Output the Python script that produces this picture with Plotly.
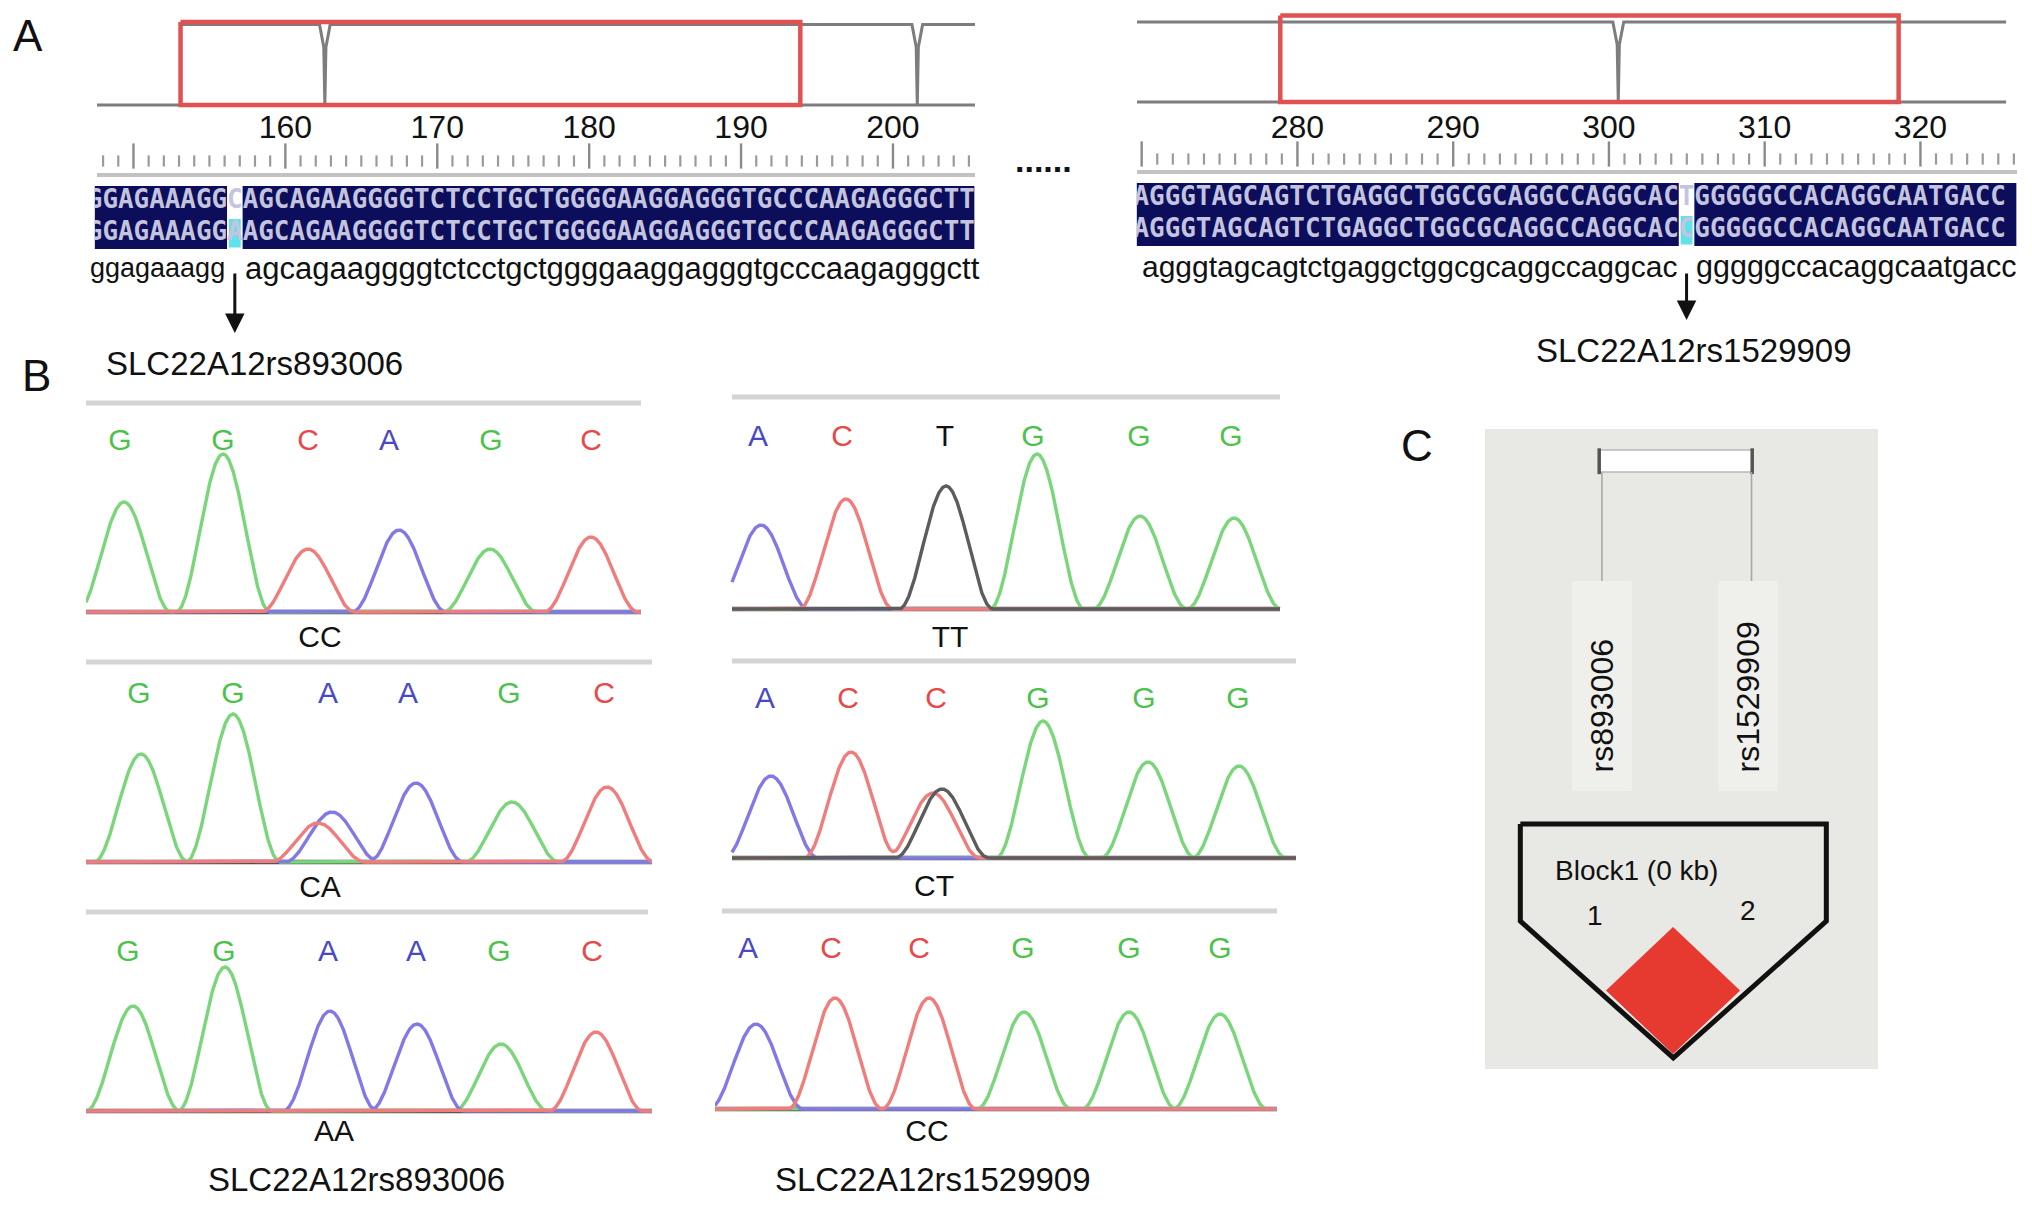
import numpy as np
import plotly.graph_objects as go

W, H = 2032, 1205
SANS = "Liberation Sans, Arial, Helvetica, sans-serif"
MONO = "DejaVu Sans Mono, Liberation Mono, monospace"

# ======================= DATA =======================
# ---- Panel A: sequence viewer (base positions) ----
posA_left_range = [147.6, 205.4]
posA_right_range = [269.7, 326.2]
rulerA_left_labels = [160, 170, 180, 190, 200]
rulerA_right_labels = [280, 290, 300, 310, 320]
rulerA_left_ticks = list(range(148, 206))
rulerA_right_ticks = list(range(270, 327))
traceA_left_rise = 153.1      # quality trace starts (rises) here
traceA_right_rise = None      # quality trace spans whole view
traceA_left_dips = [162.6, 201.6]
traceA_right_dips = [300.6]
windowA_left = [153.1, 193.9]
windowA_right = [278.9, 318.6]

seqA_left_row1 = "GGAGAAAGGCAGCAGAAGGGGTCTCCTGCTGGGGAAGGAGGGTGCCCAAGAGGGCTT"
seqA_left_row2 = "GGAGAAAGGAAGCAGAAGGGGTCTCCTGCTGGGGAAGGAGGGTGCCCAAGAGGGCTT"
seqA_right_row1 = "AGGGTAGCAGTCTGAGGCTGGCGCAGGCCAGGCACTGGGGGCCACAGGCAATGACC"
seqA_right_row2 = "AGGGTAGCAGTCTGAGGCTGGCGCAGGCCAGGCACCGGGGGCCACAGGCAATGACC"
seqA_left_lower = ["ggagaaagg", "agcagaaggggtctcctgctggggaaggagggtgcccaagagggctt"]
seqA_right_lower = ["agggtagcagtctgaggctggcgcaggccaggcac", "gggggccacaggcaatgacc"]
snpA_left_index = 9
snpA_right_index = 35
snp_names = ["SLC22A12rs893006", "SLC22A12rs1529909"]

# ---- Panel B: chromatograms (scan position, signal) ----
chromL1_peak_pos = [38, 137, 222, 313, 404, 505]
chromL1_peak_h = [110, 158, 63, 82, 63, 75]
chromL1_peak_base = list("GGCAGC")
chromL1_call_pos = [34, 137, 222, 303, 405, 505]
chromL1_call = list("GGCAGC")
chromL1_genotype = "CC"

chromL2_peak_pos = [55, 147, 232, 246, 330, 426, 521]
chromL2_peak_h = [108, 148, 39, 50, 79, 60, 75]
chromL2_peak_base = list("GGCAAGC")
chromL2_call_pos = [53, 147, 242, 322, 423, 518]
chromL2_call = list("GGAAGC")
chromL2_genotype = "CA"

chromL3_peak_pos = [47, 139, 244, 331, 415, 510]
chromL3_peak_h = [105, 144, 100, 87, 67, 79]
chromL3_peak_base = list("GGAAGC")
chromL3_call_pos = [42, 138, 242, 330, 413, 506]
chromL3_call = list("GGAAGC")
chromL3_genotype = "AA"

chromR1_peak_pos = [46, 131, 231, 322, 425, 519]
chromR1_peak_h = [84, 110, 123, 155, 93, 91]
chromR1_peak_base = list("ACTGGG")
chromR1_call_pos = [43, 127, 230, 318, 424, 516]
chromR1_call = list("ACTGGG")
chromR1_genotype = "TT"

chromR2_peak_pos = [56, 136, 218, 227, 328, 433, 524]
chromR2_peak_h = [82, 106, 65, 69, 137, 96, 92]
chromR2_peak_base = list("ACCTGGG")
chromR2_call_pos = [50, 133, 221, 323, 429, 523]
chromR2_call = list("ACCGGG")
chromR2_genotype = "CT"

chromR3_peak_pos = [41, 120, 214, 309, 414, 505]
chromR3_peak_h = [85, 111, 111, 97, 97, 95]
chromR3_peak_base = list("ACCGGG")
chromR3_call_pos = [33, 116, 204, 308, 414, 505]
chromR3_call = list("ACCGGG")
chromR3_genotype = "CC"

# ---- Panel C: LD block (marker index units) ----
ldC_markers = ["rs893006", "rs1529909"]
ldC_marker_track = [0.97, 2.07]
ldC_marker_label_x = [0.97, 2.044]
ldC_block_label = "Block1 (0 kb)"
ldC_pair_value = [1.0]  # D' = 1 -> red diamond

# ======================= STYLES =======================
TRACE_COL = {"A": "#8278e6", "C": "#f07c7c", "G": "#7ad67a", "T": "#5c5c5c"}
CALL_COL = {"A": "#4a48c2", "C": "#e84848", "G": "#4cc24c", "T": "#111111"}

fig = go.Figure()
axes_layout = {}
counter = [0]


def add_axes(px0, px1, py0, py1, xr, yr):
    counter[0] += 1
    n = counter[0]
    s = "" if n == 1 else str(n)
    axes_layout["xaxis" + s] = dict(domain=[max(0, px0 / W), min(1, px1 / W)], range=xr,
                                    visible=False, fixedrange=True, anchor="y" + s)
    axes_layout["yaxis" + s] = dict(domain=[max(0, 1 - py1 / H), min(1, 1 - py0 / H)], range=yr,
                                    visible=False, fixedrange=True, anchor="x" + s)
    return "x" + s, "y" + s


def line(xa, ya, x, y, color, width, **kw):
    fig.add_trace(go.Scatter(x=x, y=y, xaxis=xa, yaxis=ya, mode="lines",
                             line=dict(color=color, width=width, **kw),
                             hoverinfo="skip", showlegend=False))


def paper_text(px, py, text, size, color="#111", xanchor="center", yanchor="middle", **kw):
    fig.add_annotation(x=px / W, y=1 - py / H, xref="paper", yref="paper", text=text,
                       showarrow=False, xanchor=xanchor, yanchor=yanchor,
                       font=dict(family=SANS, size=size, color=color), **kw)


# ======================= PANEL A =======================
def seq_panel(xd, xr, rise, dips, window, labels, ticks, geo):
    xa, ya = add_axes(xd[0], xd[1], 0, 400, xr, [400, 0])
    base_py, top_py, box_top = geo["base"], geo["top"], geo["box_top"]

    def qy(q):
        return base_py - q * (base_py - top_py)

    xend = xr[1] - geo["trim"]
    line(xa, ya, [xr[0], xend], [qy(0), qy(0)], "#7d7d7d", 3)
    if rise is None:
        qx, qq = [xr[0]], [1]
    else:
        qx, qq = [rise, rise], [0, 1]
    for d in dips:
        qx += [d - 0.35, d - 0.07, d, d + 0.07, d + 0.35]
        qq += [1, 0.72, 0, 0.72, 1]
    qx.append(xend)
    qq.append(1)
    line(xa, ya, qx, [qy(q) for q in qq], "#7d7d7d", 3)
    line(xa, ya, [window[0], window[1], window[1], window[0], window[0]],
         [box_top, box_top, base_py, base_py, box_top], "#e05252", 4.5)
    fig.add_trace(go.Scatter(x=labels, y=[geo["num"]] * len(labels), xaxis=xa, yaxis=ya,
                             mode="text", text=[str(v) for v in labels],
                             textfont=dict(family=SANS, size=32, color="#111"),
                             hoverinfo="skip", showlegend=False, cliponaxis=False))
    major = [t for t in ticks if t % 10 == 0]
    minor = [t for t in ticks if t % 10 != 0]
    fig.add_trace(go.Scatter(x=minor, y=[geo["tick"] + 4] * len(minor), xaxis=xa, yaxis=ya,
                             mode="markers", marker=dict(symbol="line-ns", size=8,
                                                         line=dict(color="#9a9a9a", width=2.2)),
                             hoverinfo="skip", showlegend=False, cliponaxis=False))
    fig.add_trace(go.Scatter(x=major, y=[geo["tick"] - 1] * len(major), xaxis=xa, yaxis=ya,
                             mode="markers", marker=dict(symbol="line-ns", size=18,
                                                         line=dict(color="#8a8a8a", width=2.4)),
                             hoverinfo="skip", showlegend=False, cliponaxis=False))
    line(xa, ya, [xr[0], xr[1]], [geo["sep"], geo["sep"]], "#c2c2c2", 4)
    return xa, ya


geoL = dict(base=105, top=24.6, box_top=22, num=130, tick=157, sep=175, trim=0)
geoR = dict(base=102, top=22, box_top=15.5, num=130, tick=155, sep=172, trim=0.7)
seq_panel([97, 975], posA_left_range, traceA_left_rise, traceA_left_dips, windowA_left,
          rulerA_left_labels, rulerA_left_ticks, geoL)
seq_panel([1137, 2017], posA_right_range, traceA_right_rise, traceA_right_dips, windowA_right,
          rulerA_right_labels, rulerA_right_ticks, geoR)

PITCH = 15.58


def seq_block(px0, px1, py0, py1, rows, first_center, snp_i, lower, low_py, low_sizes,
              arrow_tip, name, name_px, name_py, name_anchor):
    nch = (px1 - px0) / PITCH
    xa, ya = add_axes(px0, px1, py0, py1, [0, nch], [0, 2])
    gx0 = first_center + snp_i - 0.5
    fig.add_shape(type="rect", xref=xa, yref=ya, x0=0, x1=nch, y0=0, y1=2,
                  fillcolor="#0c0e5c", line_width=0, layer="below")
    fig.add_shape(type="rect", xref=xa, yref=ya, x0=gx0, x1=gx0 + 1, y0=0, y1=2,
                  fillcolor="#ffffff", line_width=0, layer="below")
    fig.add_shape(type="rect", xref=xa, yref=ya, x0=gx0 + 0.12, x1=gx0 + 0.88, y0=0.05, y1=0.95,
                  fillcolor="#5fe2ea", line_width=0, layer="below")
    for txt, yy in zip(rows, [1.5, 0.5]):
        ctr = first_center + (len(txt) - 1) / 2
        fig.add_trace(go.Scatter(x=[ctr], y=[yy], xaxis=xa, yaxis=ya, mode="text", text=[txt],
                                 textfont=dict(family=MONO, size=PITCH / 0.602, color="#c4c4de",
                                               weight="bold"),
                                 hoverinfo="skip", showlegend=False, cliponaxis=True))
    fig.add_annotation(x=gx0, y=1 - low_py / H, xref=xa, yref="paper", text=lower[0],
                       showarrow=False, xanchor="right", yanchor="middle",
                       font=dict(family=SANS, size=low_sizes[0], color="#111"))
    fig.add_annotation(x=gx0 + 1, y=1 - low_py / H, xref=xa, yref="paper", text=lower[1],
                       showarrow=False, xanchor="left", yanchor="middle",
                       font=dict(family=SANS, size=low_sizes[1], color="#111"))
    fig.add_annotation(x=gx0 + 0.5, y=1 - arrow_tip / H, xref=xa, yref="paper", text="",
                       showarrow=True, ax=0, ay=-(arrow_tip - 272), arrowhead=2, arrowsize=1.3,
                       arrowwidth=3, arrowcolor="#111")
    paper_text(name_px, name_py, name, 33, xanchor=name_anchor)


seq_block(94.6, 974.6, 186, 249, [seqA_left_row1, seqA_left_row2], 0.0, snpA_left_index,
          seqA_left_lower, 268, (27, 31), 333, snp_names[0], 104, 363, "left")
seq_block(1136.6, 2016.6, 183, 246, [seqA_right_row1, seqA_right_row2], 0.3, snpA_right_index,
          seqA_right_lower, 266, (30, 30.5), 320, snp_names[1], 1694, 350, "center")

paper_text(1043, 160, "<b>......</b>", 34)

# ======================= PANEL B =======================
HALF_W = 47.0  # half base-width of a trace peak (scan units)


def chromatogram(xd, geo, pos, hts, bases, cpos, calls, geno):
    w = xd[1] - xd[0]
    yb = geo["yb"]
    xa, ya = add_axes(xd[0], xd[1], yb - 232, yb + 42, [0, w], [-42, 232])
    t = yb - geo["top"]
    line(xa, ya, list(geo["top_ext"]), [t, t], "#d4d4d4", 5)
    line(xa, ya, list(geo["base_ext"]), [0, 0], "#4e4e4e", 4.5)
    xs = np.linspace(geo["base_ext"][0], geo["base_ext"][1], 1200)
    for b in ["G", "A", "C", "T"]:
        sel = [(p, h) for p, h, bb in zip(pos, hts, bases) if bb == b]
        if not sel:
            continue
        ys = np.zeros_like(xs)
        for p, h in sel:
            d = np.clip(np.abs(xs - p) / HALF_W, 0, 1)
            ys += h * np.cos(d * np.pi / 2) ** 2
        line(xa, ya, xs, ys, TRACE_COL[b], 3.4)
    c = yb - geo["call"]
    fig.add_trace(go.Scatter(x=cpos, y=[c] * len(cpos), xaxis=xa, yaxis=ya, mode="text",
                             text=calls, textfont=dict(family=SANS, size=30,
                                                       color=[CALL_COL[k] for k in calls]),
                             hoverinfo="skip", showlegend=False, cliponaxis=False))
    fig.add_trace(go.Scatter(x=[geo["gx"]], y=[yb - geo["lab"]], xaxis=xa, yaxis=ya, mode="text",
                             text=[geno], textfont=dict(family=SANS, size=30, color="#111"),
                             hoverinfo="skip", showlegend=False, cliponaxis=False))


LXD, RXD = [86, 652], [715, 1296]
chromatogram(LXD, dict(yb=612, top=403, call=442, lab=639, top_ext=(0, 555), base_ext=(0, 555), gx=234),
             chromL1_peak_pos, chromL1_peak_h, chromL1_peak_base, chromL1_call_pos, chromL1_call,
             chromL1_genotype)
chromatogram(LXD, dict(yb=862, top=662, call=695, lab=889, top_ext=(0, 566), base_ext=(0, 566), gx=234),
             chromL2_peak_pos, chromL2_peak_h, chromL2_peak_base, chromL2_call_pos, chromL2_call,
             chromL2_genotype)
chromatogram(LXD, dict(yb=1111, top=912, call=953, lab=1133, top_ext=(0, 562), base_ext=(0, 566), gx=248),
             chromL3_peak_pos, chromL3_peak_h, chromL3_peak_base, chromL3_call_pos, chromL3_call,
             chromL3_genotype)
chromatogram(RXD, dict(yb=609, top=397, call=438, lab=639, top_ext=(17, 565), base_ext=(17, 565), gx=235),
             chromR1_peak_pos, chromR1_peak_h, chromR1_peak_base, chromR1_call_pos, chromR1_call,
             chromR1_genotype)
chromatogram(RXD, dict(yb=858, top=661, call=700, lab=888, top_ext=(17, 581), base_ext=(17, 581), gx=219),
             chromR2_peak_pos, chromR2_peak_h, chromR2_peak_base, chromR2_call_pos, chromR2_call,
             chromR2_genotype)
chromatogram(RXD, dict(yb=1109, top=911, call=950, lab=1133, top_ext=(7, 562), base_ext=(0, 562), gx=212),
             chromR3_peak_pos, chromR3_peak_h, chromR3_peak_base, chromR3_call_pos, chromR3_call,
             chromR3_genotype)

paper_text(356, 1179, snp_names[0], 33)
paper_text(933, 1179, snp_names[1], 33)

# ======================= PANEL C =======================
U = 136.0  # px per marker unit
cx0, cx1, cy0, cy1 = 1485, 1878, 429, 1069
xa, ya = add_axes(cx0, cx1, cy0, cy1, [1 + (cx0 - 1606) / U, 1 + (cx1 - 1606) / U],
                  [(927 - cy1) / U, (927 - cy0) / U])
fig.add_shape(type="rect", xref=xa + " domain", yref=ya + " domain", x0=0, x1=1, y0=0, y1=1,
              fillcolor="#e8e8e4", line_width=0, layer="below")
for mx in ldC_marker_label_x:
    fig.add_shape(type="rect", xref=xa, yref=ya, x0=mx - 0.22, x1=mx + 0.22, y0=1.0, y1=2.544,
                  fillcolor="#efefec", line_width=0, layer="below")
tx0, tx1 = ldC_marker_track[0] - 0.02, ldC_marker_track[1] + 0.005
fig.add_shape(type="rect", xref=xa, yref=ya, x0=tx0, x1=tx1, y0=3.346, y1=3.507,
              fillcolor="#ffffff", line=dict(color="#b8b8b8", width=1.5), layer="below")
for ex in [tx0, tx1]:
    line(xa, ya, [ex, ex], [3.33, 3.52], "#555555", 3.5)
for mx in ldC_marker_track:
    line(xa, ya, [mx, mx], [3.346, 2.544], "#a8a8a8", 1.6)
for mx, name in zip(ldC_marker_label_x, ldC_markers):
    fig.add_annotation(x=mx, y=1.125, xref=xa, yref=ya, text=name, textangle=-90, showarrow=False,
                       xanchor="center", yanchor="bottom",
                       font=dict(family=SANS, size=32, color="#111"))
dcol = "#e63a30" if ldC_pair_value[0] >= 1 else "#f4a0a0"
fig.add_trace(go.Scatter(x=[1.493, 1.986, 1.493, 1.0, 1.493], y=[0, -0.467, -0.934, -0.467, 0],
                         xaxis=xa, yaxis=ya, mode="lines", fill="toself", fillcolor=dcol,
                         line=dict(width=0, color=dcol), hoverinfo="skip", showlegend=False))
line(xa, ya, [0.37, 2.62, 2.62, 1.495, 0.37, 0.37], [0.757, 0.757, 0.044, -0.963, 0.044, 0.757],
     "#111111", 5)
fig.add_annotation(x=1.221, y=0.419, xref=xa, yref=ya, text=ldC_block_label, showarrow=False,
                   font=dict(family=SANS, size=28, color="#111"))
fig.add_annotation(x=0.919, y=0.088, xref=xa, yref=ya, text="1", showarrow=False,
                   font=dict(family=SANS, size=28, color="#111"))
fig.add_annotation(x=2.044, y=0.125, xref=xa, yref=ya, text="2", showarrow=False,
                   font=dict(family=SANS, size=28, color="#111"))

# ======================= PANEL LETTERS =======================
paper_text(28, 35, "A", 44)
paper_text(36, 375, "B", 44)
paper_text(1417, 445, "C", 44)

fig.update_layout(**axes_layout)
fig.update_layout(width=W, height=H, margin=dict(l=0, r=0, t=0, b=0),
                  paper_bgcolor="white", plot_bgcolor="rgba(0,0,0,0)", showlegend=False)

fig.write_html("out.html", config={"displayModeBar": False, "staticPlot": True},
               post_script="document.body.style.margin='0';document.body.style.overflow='hidden';")
